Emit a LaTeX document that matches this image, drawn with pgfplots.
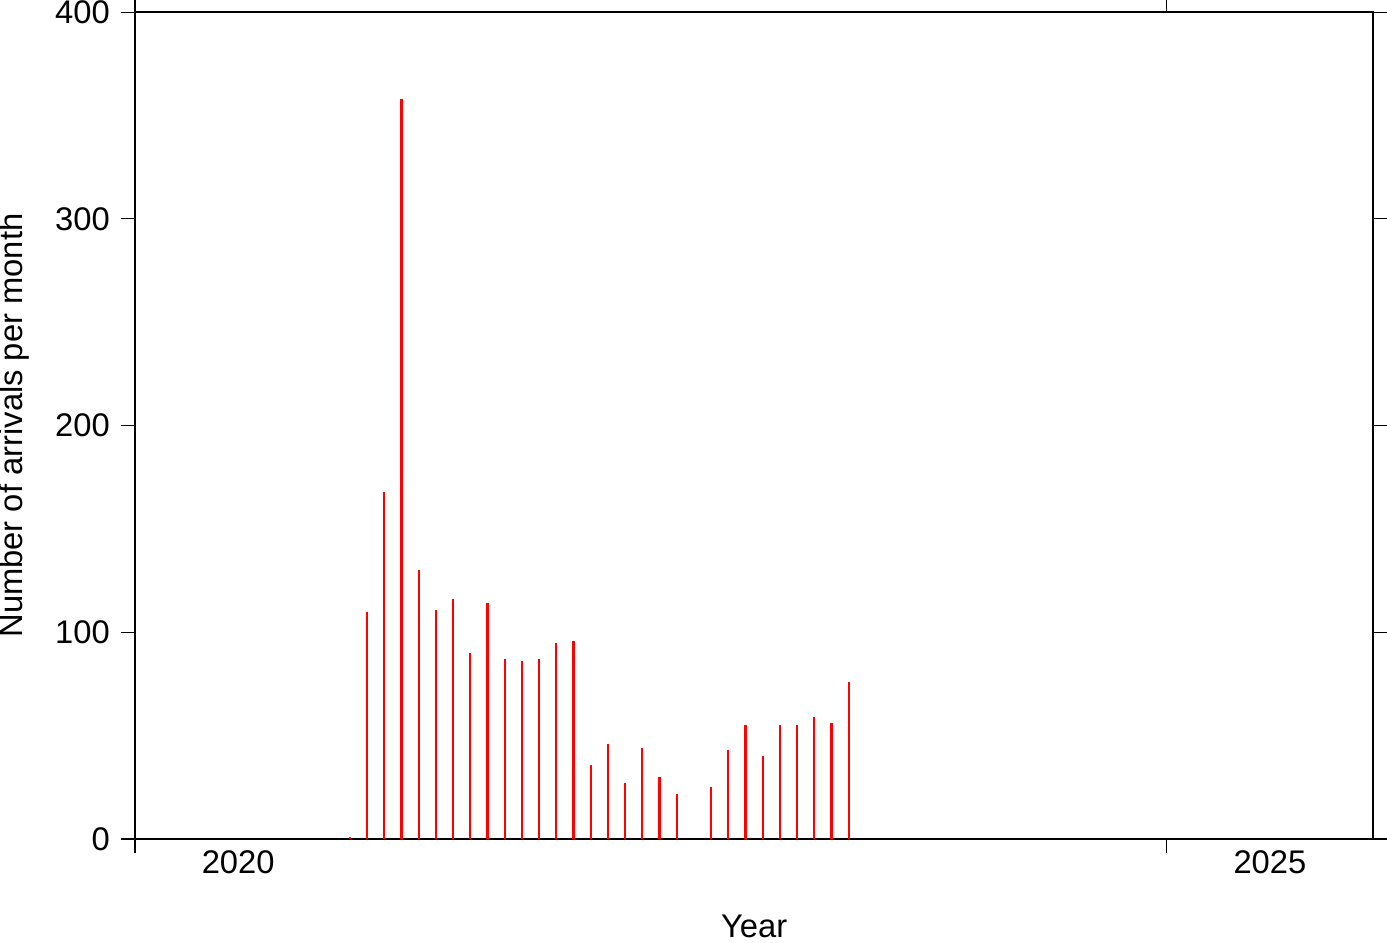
\documentclass[border=0pt]{standalone}
\usepackage{pgfplots}
\pgfplotsset{compat=1.18}
\usepackage{fontspec}
\setmainfont{Liberation Sans}
\begin{document}
\fontsize{11.8pt}{14pt}\selectfont
\begin{tikzpicture}
\begin{axis}[
  at={(0,0)}, anchor=south west,
  scale only axis,
  width=446.3pt, height=298.1pt,
  xmin=2020, xmax=2026, ymin=0, ymax=400,
  axis line style={line width=0.85pt},
  tick style={line width=0.4pt, black},
  tick align=outside,
  major tick length=5pt,
  xtick={2020,2025},
  xticklabels={},
  extra x ticks={2020.5,2025.5},
  extra x tick labels={2020,2025},
  extra x tick style={major tick length=0pt},
  ytick={0,100,200,300,400},
  yticklabel style={/pgf/number format/assume math mode=true},
  xticklabel style={/pgf/number format/assume math mode=true},
  ylabel={Number of arrivals per month},
  xlabel={Year},
  xlabel style={at={(axis description cs:0.5,0)}, anchor=base, yshift=-35.6pt},
  ylabel style={at={(axis description cs:-0.0977,0.5)}, anchor=center},
  clip=false,
]
\addplot[ycomb, red, line width=0.8pt, mark=none] table {
x y
2021.0417 1
2021.1250 110
2021.2083 168
2021.2917 358
2021.3750 130
2021.4583 111
2021.5417 116
2021.6250 90
2021.7083 114
2021.7917 87
2021.8750 86
2021.9583 87
2022.0417 95
2022.1250 96
2022.2083 36
2022.2917 46
2022.3750 27
2022.4583 44
2022.5417 30
2022.6250 22
2022.7917 25
2022.8750 43
2022.9583 55
2023.0417 40
2023.1250 55
2023.2083 55
2023.2917 59
2023.3750 56
2023.4583 76
};
\end{axis}
\pgfresetboundingbox
\path[use as bounding box] (-48.67pt,-37.13pt) rectangle (451.3pt,302.45pt);
\end{tikzpicture}
\end{document}
